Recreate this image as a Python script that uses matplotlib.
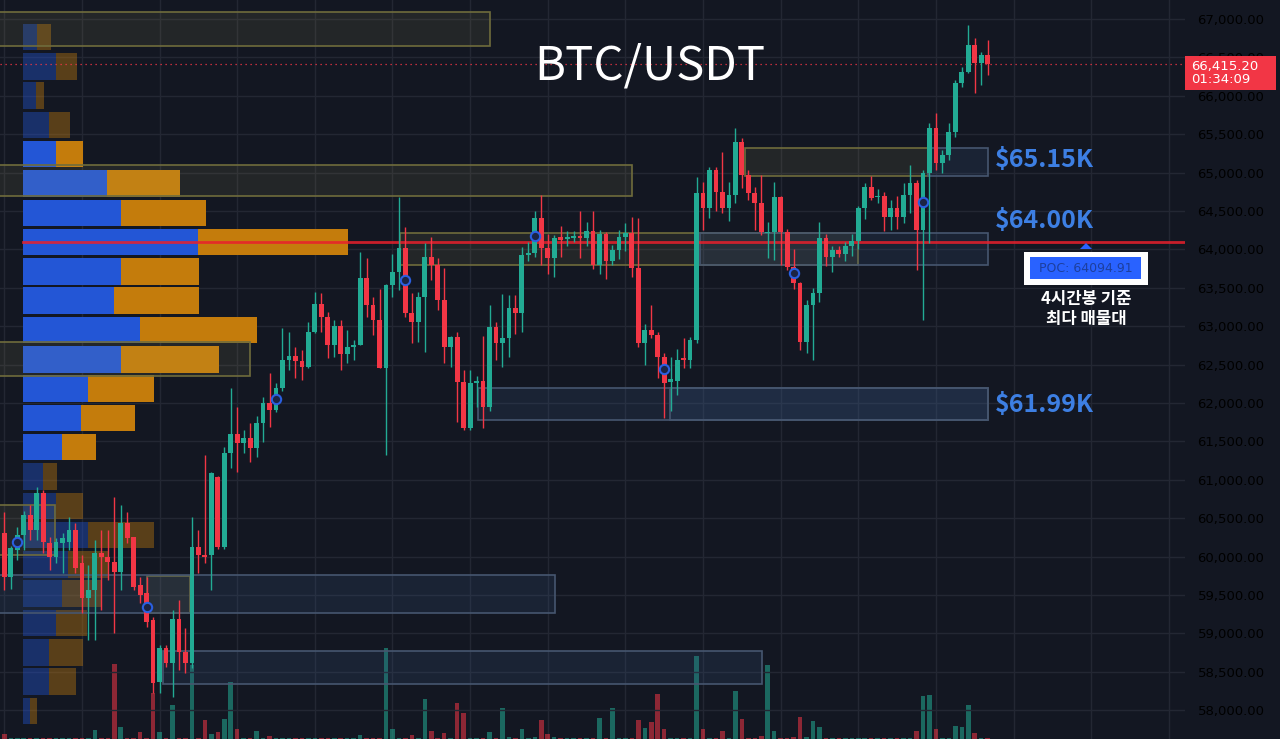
import matplotlib.pyplot as plt
from matplotlib.patches import Rectangle, Polygon
from matplotlib.colors import to_rgba

plt.rcParams['font.family'] = ['DejaVu Sans']

# 4h candles (index = bar number from left edge)
opens = [60307, 59734, 60090, 60281, 60542, 60347, 60828, 60177, 59995, 60177,
         60190, 60347, 59917, 59461, 59565, 60047, 59995, 59930, 59800, 60438,
         60255, 59631, 59526, 59175, 58367, 58810, 58614, 59188, 58758, 58614,
         60125, 60021, 60021, 61037, 60125, 61349, 61596, 61479, 61544, 61414,
         61739, 62000, 61909, 62195, 62560, 62612, 62547, 62469, 62925, 63289,
         63120, 62755, 63003, 62638, 62729, 62755, 63627, 63276, 63080, 62456,
         63536, 63706, 64018, 63172, 63055, 63380, 63901, 63797, 63341, 62729,
         62860, 62273, 61674, 62260, 62290, 61948, 62989, 62781, 62850, 63237,
         63172, 63927, 63953, 64409, 64018, 63888, 64160, 64130, 64150, 64180,
         64150, 64240, 63797, 64200, 63849, 63992, 64160, 64210, 63755, 62781,
         62950, 62880, 62600, 62273, 62290, 62580, 62560, 62820, 64734, 64539,
         65033, 64747, 64539, 64708, 65398, 64968, 64734, 64604, 64210, 64226,
         64682, 64226, 63770, 63560, 62794, 63276, 63432, 64148, 63901, 63990,
         63940, 64050, 64110, 64539, 64812, 64680, 64700, 64420, 64540, 64420,
         64708, 64866, 64253, 64995, 65580, 65125, 65230, 65528, 66166, 66310,
         66661, 66427, 66531]
highs = [60581, 60140, 60385, 60600, 60672, 60906, 60867, 60255, 60242, 60307,
         60516, 60438, 60021, 59891, 60216, 60347, 60347, 60776, 60672, 60581,
         60255, 59735, 59735, 59214, 58848, 58848, 59305, 59435, 59070, 60516,
         60347, 61323, 61102, 61050, 61427, 62195, 61948, 61648, 61739, 61830,
         62078, 62390, 62260, 62976, 62925, 62729, 62690, 63054, 63445, 63432,
         63180, 63080, 63080, 62950, 62820, 63966, 63888, 63380, 63484, 63550,
         63940, 64682, 64291, 63432, 63450, 64083, 64160, 63888, 63758, 62870,
         62925, 62430, 62430, 62350, 62872, 63276, 63050, 63418, 63400, 63400,
         64031, 64100, 64500, 64708, 64200, 64190, 64300, 64240, 64240, 64500,
         64350, 64500, 64250, 64220, 64060, 64250, 64340, 64420, 64409, 63030,
         63276, 62925, 62650, 62600, 62700, 62850, 62860, 64943, 64877, 65073,
         65073, 65268, 64877, 65580, 65450, 65030, 64810, 64968, 64356, 64877,
         64700, 64260, 64000, 63580, 63341, 63500, 64356, 64200, 64050, 64050,
         64100, 64200, 64560, 64860, 64950, 64780, 64750, 64643, 64700, 64866,
         65100, 64904, 65033, 65645, 65776, 65300, 65645, 66206, 66375, 66922,
         66752, 66570, 66726]
lows = [59566, 59580, 59956, 60090, 60216, 60216, 60047, 59826, 59917, 59787,
        60086, 59787, 59266, 58914, 58914, 59305, 59695, 59005, 59566, 60177,
        59566, 59396, 59083, 58224, 58224, 58563, 58172, 58524, 58485, 58550,
        59787, 59912, 59566, 60100, 60100, 61154, 61102, 61349, 61232, 61300,
        61492, 61687, 61880, 62150, 62430, 62326, 62300, 62450, 62912, 62925,
        62586, 62600, 62430, 62520, 62560, 62750, 63120, 62886, 62450, 61323,
        63380, 63471, 63120, 62782, 62800, 62664, 63600, 63210, 62520, 62470,
        61753, 61648, 61650, 61950, 61674, 61900, 62560, 62469, 62600, 62900,
        62925, 63850, 63900, 63797, 63680, 63640, 63900, 64040, 64100, 63890,
        64050, 63750, 63680, 63620, 63800, 63880, 63980, 63640, 62730, 62490,
        62840, 62325, 61800, 61900, 62100, 62450, 62450, 62781, 64253, 64409,
        64500, 64474, 64370, 64604, 64800, 64643, 64253, 64188, 63888, 63862,
        63800, 63730, 63480, 62690, 62650, 62560, 63315, 63780, 63700, 63900,
        63850, 63920, 64000, 64400, 64643, 64600, 64240, 64253, 64270, 64343,
        64474, 63730, 63081, 64083, 65033, 65000, 65164, 65463, 66114, 66297,
        66036, 66140, 66270]
closes = [59734, 60110, 60281, 60542, 60347, 60828, 60190, 59995, 60190, 60242,
          60347, 59852, 59461, 59565, 60047, 59995, 59930, 59800, 60438, 60242,
          59605, 59500, 59149, 58354, 58810, 58614, 59188, 58758, 58614, 60125,
          60021, 60000, 61089, 60125, 61349, 61596, 61479, 61544, 61414, 61739,
          62000, 61909, 62195, 62560, 62612, 62547, 62469, 62925, 63289, 63120,
          62755, 63003, 62638, 62729, 62755, 63627, 63276, 63080, 62456, 63536,
          63706, 64018, 63172, 63055, 63380, 63901, 63797, 63341, 62729, 62860,
          62273, 61674, 62260, 62290, 61948, 62989, 62781, 62850, 63237, 63172,
          63927, 63953, 64409, 64018, 63888, 64148, 64120, 64160, 64180, 64150,
          64240, 63797, 64200, 63849, 63992, 64160, 64210, 63755, 62781, 62950,
          62880, 62600, 62260, 62310, 62560, 62560, 62820, 64734, 64539, 65033,
          64747, 64539, 64708, 65398, 64968, 64734, 64604, 64226, 64226, 64682,
          64226, 63771, 63560, 62794, 63276, 63432, 64148, 63901, 63992, 63940,
          64050, 64110, 64539, 64812, 64670, 64700, 64420, 64540, 64420, 64708,
          64866, 64253, 64995, 65580, 65125, 65230, 65528, 66166, 66310, 66661,
          66427, 66531, 66415.2]
volumes = [50, 15, 15, 15, 15, 15, 15, 15, 15, 15,
           15, 15, 15, 15, 90, 15, 15, 750, 120, 15,
           15, 70, 15, 460, 70, 15, 340, 15, 15, 740,
           15, 190, 50, 70, 200, 570, 100, 15, 15, 80,
           15, 30, 15, 15, 15, 15, 15, 15, 15, 15,
           15, 15, 15, 15, 15, 40, 15, 15, 15, 910,
           100, 15, 15, 40, 15, 400, 80, 15, 60, 15,
           360, 260, 15, 15, 15, 70, 15, 310, 20, 15,
           100, 15, 20, 190, 50, 20, 15, 15, 15, 15,
           15, 15, 210, 15, 310, 15, 15, 15, 190, 110,
           170, 450, 100, 15, 15, 15, 15, 830, 100, 15,
           15, 80, 15, 480, 200, 15, 15, 30, 740, 80,
           15, 15, 20, 220, 20, 180, 120, 15, 15, 15,
           15, 15, 15, 15, 15, 15, 15, 15, 15, 15,
           15, 80, 430, 440, 100, 15, 15, 130, 120, 340,
           60, 15, 15]

# signal circles
marker_idx = [2, 22, 42, 62, 82, 102, 122, 142]
marker_price = [60190, 59344, 62052, 63601, 64174, 62443, 63693, 64617]

# volume profile (up / down volume per price row)
profile_price = [66765.4, 66383.9, 66002.4, 65620.9, 65239.4, 64857.9, 64476.4, 64094.9,
                 63713.4, 63331.9, 62950.4, 62568.9, 62187.4, 61805.9, 61424.4, 61042.9,
                 60661.4, 60279.9, 59898.4, 59516.9, 59135.4, 58753.9, 58372.4, 57990.9]
profile_up = [140, 330, 130, 260, 330, 840, 980, 1750, 980, 910, 1170, 980,
              650, 580, 390, 200, 330, 650, 450, 390, 330, 260, 260, 70]
profile_down = [140, 210, 80, 210, 270, 730, 850, 1500, 780, 850, 1170, 980,
                660, 540, 340, 140, 270, 660, 400, 400, 310, 340, 270, 70]
poc_price = 64094.91
va_high = 65430
va_low = 61230

# supply (yellow) / demand (blue) zones: top, bottom, start bar, end bar
zone_top = [67091, 65099, 62794, 64213, 65320, 60672, 59748,
            65320, 64213, 59760, 58771, 62195, 62195]
zone_bottom = [66648, 64695, 62352, 63797, 64955, 60021, 59266,
               64955, 63797, 59266, 58341, 61779, 61779]
zone_start = [-1, -1, -1, 61.2, 114.5, -1, 22.1,
              142.8, 107.5, -1, 24.5, 73.2, 102.9]
zone_end = [75.1, 97.0, 38.0, 132.0, 142.8, 7.8, 28.7,
            152.0, 152.0, 85.1, 117.1, 152.0, 152.0]
zone_kind = ['y', 'y', 'y', 'y', 'y', 'y', 'y',
             'b', 'b', 'b', 'b', 'b', 'b']

level_labels = ["$65.15K", "$64.00K", "$61.99K"]
level_label_y = [65164, 64370, 61974]

last_price = 66415.20
countdown = "01:34:09"

bg = '#131722'
grid_c = '#232733'
up_c = '#22ab94'
dn_c = '#f23645'
kr = ['Noto Sans CJK KR', 'DejaVu Sans']

fig = plt.figure(figsize=(12.8, 7.39), dpi=100)
fig.patch.set_facecolor(bg)
rect = [0, 0, 1185 / 1280, 1]
ax = fig.add_axes(rect)
ax_vol = fig.add_axes(rect, sharex=ax)
ax_vp = fig.add_axes(rect, sharey=ax)
ax_vol.set_zorder(0)
ax_vp.set_zorder(1)
ax.set_zorder(2)
ax_vol.axis('off')
ax_vp.axis('off')
ax.patch.set_alpha(0)

n = len(closes)
idx = list(range(n))
ax.set_xlim(-0.665, 182.5)
ax.set_ylim(57625, 67247)
ax_vol.set_ylim(0, 7390)
ax_vp.set_xlim(-230, 11620)

# grid
for v in range(0, 183, 12):
    ax_vol.axvline(v, color=grid_c, lw=1, zorder=0)
ticks = list(range(58000, 67001, 500))
for t in ticks:
    ax_vp.axhline(t, color=grid_c, lw=1, zorder=0)

# volume
vol_colors = [up_c if c >= o else dn_c for o, c in zip(opens, closes)]
ax_vol.bar(idx, volumes, width=0.7, color=vol_colors, alpha=0.55, zorder=1)

# volume profile
alphas = [1.0 if va_low <= p <= va_high else 0.4 for p in profile_price]
blue_c = [to_rgba('#2356d6', a) for a in alphas]
orange_c = [to_rgba('#c47c0c', a) for a in alphas]
ax_vp.barh(profile_price, profile_up, height=345, color=blue_c, zorder=2)
ax_vp.barh(profile_price, profile_down, left=profile_up, height=345, color=orange_c, zorder=2)

# zones
for top, bot, s, e, k in zip(zone_top, zone_bottom, zone_start, zone_end, zone_kind):
    if k == 'y':
        fc, ec = to_rgba('#b8b060', 0.10), '#6f6c3c'
    else:
        fc, ec = to_rgba('#3a5a8a', 0.18), '#46566f'
    ax.add_patch(Rectangle((s, bot), e - s, top - bot, facecolor=fc,
                           edgecolor=ec, lw=1.2, zorder=1))

# POC + last price lines
ax.axhline(poc_price, xmin=23 / 1185, color='#e8202c', lw=2, alpha=0.85, zorder=2)
ax.axhline(last_price, color=dn_c, lw=0.9, ls=(0, (1, 3)), zorder=2)

# candles
colors = [up_c if c >= o else dn_c for o, c in zip(opens, closes)]
ax.vlines(idx, lows, highs, colors=colors, lw=1, zorder=3)
bottoms = [min(o, c) for o, c in zip(opens, closes)]
heights = [max(abs(c - o), 18) for o, c in zip(opens, closes)]
ax.bar(idx, heights, bottom=bottoms, width=0.74, color=colors, zorder=4)

ax.scatter(marker_idx, marker_price, s=45, facecolor='#1c2444',
           edgecolor='#2a5fe0', lw=1.5, zorder=5)

# price axis
ax.set_yticks(ticks)
labels = ax.set_yticklabels([f"{t:,.2f}" for t in ticks])
for t, lab in zip(ticks, labels):
    if t % 1000 == 0:
        lab.set_fontweight('bold')
        lab.set_color('#d1d4dc')
    else:
        lab.set_color('#a3a6af')
ax.yaxis.tick_right()
ax.tick_params(axis='y', length=0, pad=9, labelsize=9.5)
ax.set_xticks([])
for sp in ax.spines.values():
    sp.set_visible(False)

# last price tag (covers the 66,500 label, as on the chart)
ppx = (67247 - 57625) / 739
ytr = ax.get_yaxis_transform()
ax.add_patch(Rectangle((1.0, last_price - 26 * ppx), 91 / 1185, 34 * ppx,
                       transform=ytr, facecolor=dn_c, edgecolor='none',
                       clip_on=False, zorder=6))
ax.text(1.0 + 6 / 1185, last_price - 9 * ppx, f"{last_price:,.2f}\n{countdown}",
        transform=ytr, color='white', fontsize=9.5, ha='left', va='center',
        linespacing=1.0, clip_on=False, zorder=7)

# title and level labels
fig.text(650 / 1280, 1 - 66 / 739, "BTC/USDT", ha='center', va='center',
         fontsize=34, color='white', family=kr, fontweight='medium')
for lab, y in zip(level_labels, level_label_y):
    ax.text(995 / 1185, y, lab, transform=ytr, color='#3d7fe3', fontsize=18,
            ha='left', va='center', family=kr, fontweight='bold', zorder=6)

# POC callout
W, H = 1280, 739
fig.patches.append(Rectangle((1024 / W, 1 - 285 / H), 124 / W, 33 / H,
                             transform=fig.transFigure, facecolor='white',
                             edgecolor='none', zorder=5))
fig.patches.append(Rectangle((1030 / W, 1 - 279 / H), 111 / W, 22 / H,
                             transform=fig.transFigure, facecolor='#2962ff',
                             edgecolor='none', zorder=6))
fig.patches.append(Polygon([(1080 / W, 1 - 249 / H), (1092 / W, 1 - 249 / H),
                            (1086 / W, 1 - 243 / H)], closed=True,
                           transform=fig.transFigure, facecolor='#2962ff',
                           edgecolor='none', zorder=6))
fig.text(1086 / W, 1 - 268 / H, f"POC: {poc_price:.2f}", ha='center', va='center',
         fontsize=9, color='#1d3f9e', zorder=7)
fig.text(1086 / W, 1 - 309 / H, "4시간봉 기준\n최다 매물대", ha='center', va='center',
         fontsize=12, color='white', fontweight='bold', linespacing=1.1, family=kr)

fig.savefig('out.png', dpi=100, facecolor=bg)
